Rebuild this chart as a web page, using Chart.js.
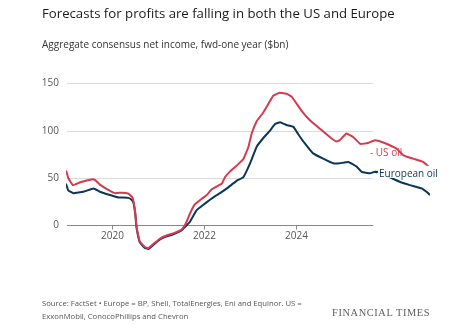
<!DOCTYPE html>
<html>
<head>
<meta charset="utf-8">
<script src="https://cdn.jsdelivr.net/npm/chart.js@4.4.1/dist/chart.umd.min.js"></script>
<style>
  html, body { margin: 0; padding: 0; background: #fff; }
  #wrap { position: relative; width: 455px; height: 332px; overflow: hidden; font-family: "Open Sans", sans-serif; }
  #chart { position: absolute; left: 0; top: 0; }
  .title { position: absolute; left: 42px; top: 4px; font-size: 13.2px; color: #1a1a1a; white-space: nowrap; }
  .subtitle { position: absolute; left: 42px; top: 37px; font-size: 10px; color: #333; white-space: nowrap; }
  .source { position: absolute; left: 42px; top: 297px; font-size: 7.7px; line-height: 12.5px; color: #555; white-space: nowrap; }
  .brand { position: absolute; left: 332px; top: 307px; font-family: "Liberation Serif", "DejaVu Serif", serif; font-size: 10.4px; color: #5e5e5e; letter-spacing: 0.6px; white-space: nowrap; }
</style>
</head>
<body>
<div id="wrap">
  <canvas id="chart" width="455" height="332"></canvas>
  <div class="title">Forecasts for profits are falling in both the US and Europe</div>
  <div class="subtitle">Aggregate consensus net income, fwd-one year ($bn)</div>
  <div class="source">Source: FactSet • Europe = BP, Shell, TotalEnergies, Eni and Equinor. US =<br>ExxonMobil, ConocoPhillips and Chevron</div>
  <div class="brand">FINANCIAL TIMES</div>
</div>
<script>
// US oil majors, fwd-one year net income ($bn)
const usYears = [2018.99, 2019.04, 2019.14, 2019.30, 2019.55, 2019.62, 2019.73, 2019.91, 2020.06, 2020.21,
  2020.35, 2020.44, 2020.50, 2020.53, 2020.60, 2020.71, 2020.79, 2020.89, 2021.04, 2021.17,
  2021.33, 2021.51, 2021.59, 2021.69, 2021.80, 2021.95, 2022.06, 2022.17, 2022.31, 2022.39,
  2022.46, 2022.57, 2022.71, 2022.86, 2022.97, 2023.04, 2023.15, 2023.29, 2023.40, 2023.51,
  2023.65, 2023.80, 2023.91, 2024.13, 2024.31, 2024.53, 2024.75, 2024.89, 2024.96, 2025.11,
  2025.26, 2025.41, 2025.58, 2025.73, 2025.91, 2026.20, 2026.35, 2026.56, 2026.78, 2026.89, 2026.93];
const usValues = [58, 50, 42.5, 45.5, 48.5, 48, 43, 37.5, 34, 34.5,
  33.5, 29.5, 14, -2, -17, -23, -24, -20, -14, -11,
  -8.5, -4.5, 0.5, 12, 22, 28, 32, 38, 42, 44,
  51, 57, 63, 70, 83, 97, 110, 119, 128, 137,
  140, 139, 136, 121, 111, 102, 93, 88.5, 90, 97,
  93, 86, 87, 90, 87.5, 81, 74, 70.5, 67, 62.5, 61];

// European oil majors
const euYears = [2018.99, 2019.04, 2019.15, 2019.37, 2019.59, 2019.73, 2019.95, 2020.13, 2020.35, 2020.42,
  2020.46, 2020.50, 2020.53, 2020.60, 2020.71, 2020.79, 2020.89, 2021.04, 2021.17, 2021.33,
  2021.51, 2021.59, 2021.69, 2021.84, 2021.98, 2022.13, 2022.28, 2022.35, 2022.50, 2022.71,
  2022.86, 2023.00, 2023.15, 2023.29, 2023.44, 2023.55, 2023.66, 2023.80, 2023.95, 2024.06,
  2024.20, 2024.38, 2024.60, 2024.82, 2024.96, 2025.15, 2025.33, 2025.44, 2025.62, 2025.73,
  2025.99, 2026.27, 2026.49, 2026.75, 2026.89, 2026.93];
const euValues = [44, 37, 34, 35.5, 39, 35.5, 32, 29.5, 29, 27,
  24, 12, -3, -18, -24, -25, -21, -15, -12, -9.5,
  -5.5, -1.5, 3.5, 16, 21.5, 27, 32, 34, 39, 47,
  51, 65, 83, 92, 100, 107, 109, 106, 104, 96,
  86.5, 76, 70.5, 65.5, 65.5, 67, 62, 56.5, 55, 56.5,
  52, 46, 42.5, 39, 34, 32];

const yTicks = [0, 50, 100, 150];
const xTickYears = [2020, 2022, 2024];
const gridEnd = 2025.69;

const RED = '#d63a4d';
const NAVY = '#0c3658';
const TICK_FONT = '10px "Open Sans", sans-serif';

const toPoints = (xs, ys) => xs.map((x, i) => ({ x: x, y: ys[i] }));

// gridlines, zero axis and year ticks stop short of the label area
const ftAxes = {
  id: 'ftAxes',
  beforeDatasetsDraw(chart) {
    const { ctx, scales: { x, y } } = chart;
    const left = x.getPixelForValue(x.min) + 1;
    const right = x.getPixelForValue(gridEnd);
    ctx.save();
    ctx.lineWidth = 1;
    yTicks.forEach(v => {
      const py = Math.round(y.getPixelForValue(v)) + 0.5;
      ctx.strokeStyle = v === 0 ? '#8a8784' : '#dddad7';
      ctx.beginPath();
      ctx.moveTo(left, py);
      ctx.lineTo(right, py);
      ctx.stroke();
    });
    const zero = Math.round(y.getPixelForValue(0)) + 0.5;
    ctx.strokeStyle = '#8a8784';
    ctx.fillStyle = '#555';
    ctx.font = TICK_FONT;
    ctx.textAlign = 'center';
    ctx.textBaseline = 'top';
    xTickYears.forEach(yr => {
      const px = Math.round(x.getPixelForValue(yr)) + 0.5;
      ctx.beginPath();
      ctx.moveTo(px, zero);
      ctx.lineTo(px, zero + 4);
      ctx.stroke();
      ctx.fillText(String(yr), px, zero + 6);
    });
    ctx.restore();
  },
  afterDatasetsDraw(chart) {
    const { ctx, scales: { x, y } } = chart;
    ctx.save();
    ctx.font = '10px "Open Sans", sans-serif';
    ctx.textBaseline = 'middle';
    ctx.textAlign = 'left';

    // US oil label
    const usX = x.getPixelForValue(2025.62);
    const usY = y.getPixelForValue(76.5);
    ctx.fillStyle = RED;
    ctx.fillText('- US oil', usX, usY);

    // European oil label, boxed so the line passes behind it
    const euX = x.getPixelForValue(2025.73);
    const euY = y.getPixelForValue(56.5);
    const label = 'European oil';
    const w = ctx.measureText(label).width;
    ctx.fillStyle = '#fff';
    ctx.fillRect(euX + 2, euY - 6, w + 6, 12);
    ctx.strokeStyle = NAVY;
    ctx.lineWidth = 2;
    ctx.beginPath();
    ctx.moveTo(euX, euY);
    ctx.lineTo(euX + 3, euY);
    ctx.stroke();
    ctx.fillStyle = NAVY;
    ctx.fillText(label, euX + 4, euY + 2);
    ctx.restore();
  }
};

new Chart(document.getElementById('chart'), {
  type: 'line',
  data: {
    datasets: [
      {
        label: 'US oil',
        data: toPoints(usYears, usValues),
        borderColor: RED,
        borderWidth: 2,
        pointRadius: 0,
        tension: 0.1
      },
      {
        label: 'European oil',
        data: toPoints(euYears, euValues),
        borderColor: NAVY,
        borderWidth: 2,
        pointRadius: 0,
        tension: 0.1
      }
    ]
  },
  options: {
    responsive: false,
    animation: false,
    events: [],
    layout: { padding: { top: 73.9, right: 25, bottom: 78.3, left: 0 } },
    plugins: { legend: { display: false }, tooltip: { enabled: false } },
    scales: {
      x: {
        type: 'linear',
        min: 2018.99,
        max: 2026.93,
        display: false
      },
      y: {
        min: -30,
        max: 160,
        grid: { display: false, drawTicks: false },
        border: { display: false },
        afterBuildTicks(scale) {
          scale.ticks = yTicks.map(v => ({ value: v }));
        },
        afterFit(scale) {
          scale.width = 66;
        },
        ticks: {
          padding: 7,
          color: '#555',
          font: { family: '"Open Sans", sans-serif', size: 10 }
        }
      }
    }
  },
  plugins: [ftAxes]
});
</script>
</body>
</html>
